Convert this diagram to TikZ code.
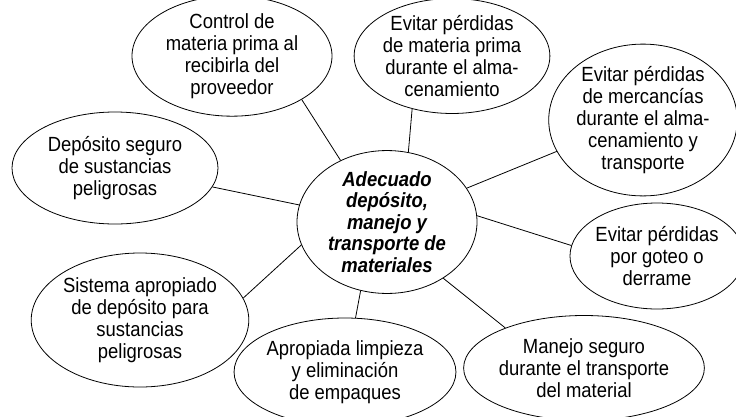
\documentclass[tikz,border=0pt]{standalone}
\usepackage{fontspec}
\setmainfont{Liberation Sans}
\newfontfamily\narrowsans[FakeStretch=0.9]{Liberation Sans}
\usetikzlibrary{shapes.geometric}
\begin{document}
\begin{tikzpicture}[x=1pt,y=-1pt,
  bub/.style={draw=black, line width=0.8pt, ellipse, inner sep=0pt, align=center,
    font=\narrowsans\fontsize{20.5pt}{22pt}\selectfont},
  hub/.style={bub, font=\narrowsans\fontsize{20.5pt}{21.5pt}\selectfont\bfseries\itshape},
  link/.style={draw=black, line width=0.8pt}]
\useasboundingbox (0,0) rectangle (736,416);
\node[hub, minimum width=180pt, minimum height=128pt] (cen) at (387,222)
  {Adecuado\\depósito,\\manejo y\\transporte de\\materiales};
\node[bub, minimum width=200pt, minimum height=98pt] (ctl) at (232,56)
  {Control de\\materia prima al\\recibirla del\\proveedor};
\node[bub, minimum width=192pt, minimum height=102pt] (emp) at (452,56)
  {Evitar pérdidas\\de materia prima\\durante el alma-\\cenamiento};
\node[bub, minimum width=183pt, minimum height=130pt] (emr) at (643,120)
  {Evitar pérdidas\\de mercancías\\durante el alma-\\cenamiento y\\transporte};
\node[bub, minimum width=206pt, minimum height=112pt] (dep) at (115,168)
  {Depósito seguro\\de sustancias\\peligrosas};
\node[bub, minimum width=155pt, minimum height=106pt] (got) at (657,256)
  {Evitar pérdidas\\por goteo o\\derrame};
\node[bub, minimum width=212pt, minimum height=134pt] (sis) at (140,320)
  {Sistema apropiado\\de depósito para\\sustancias\\peligrosas};
\node[bub, minimum width=185pt, minimum height=108pt] (apr) at (345,372)
  {Apropiada limpieza\\y eliminación\\de empaques};
\node[bub, minimum width=182pt, minimum height=105pt] (man) at (584,368)
  {Manejo seguro\\durante el transporte\\del material};
\draw[link] (ctl.-32.9) -- (cen.127.7);
\draw[link] (emp.233.8) -- (cen.73.5);
\draw[link] (emr.200.6) -- (cen.23.7);
\draw[link] (dep.-11.6) -- (cen.169.2);
\draw[link] (got.173.4) -- (cen.4.7);
\draw[link] (sis.12.6) -- (cen.195.1);
\draw[link] (apr.79.1) -- (cen.249.4);
\draw[link] (man.153.4) -- (cen.-45.9);
\end{tikzpicture}
\end{document}
